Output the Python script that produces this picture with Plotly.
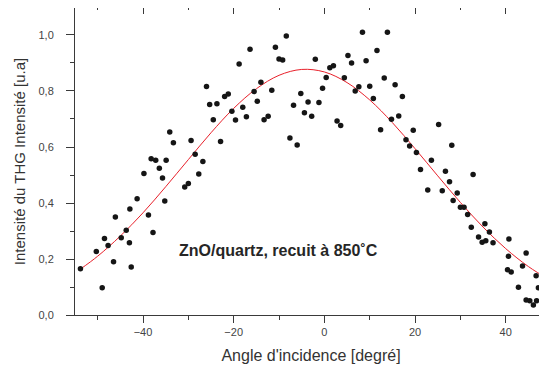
import plotly.graph_objects as go

# Measured data (angle in degrees, THG intensity in a.u.)
angle = [-53.8, -50.3, -49.0, -48.5, -47.7, -46.5, -46.1, -44.8, -43.7, -43.0,
         -42.9, -42.6, -41.3, -39.8, -38.8, -38.2, -37.8, -37.2, -36.4, -35.7,
         -35.2, -34.9, -34.1, -33.3, -30.8, -30.0, -29.4, -28.5, -27.7, -26.8,
         -26.0, -25.3, -24.5, -23.7, -22.9, -22.0, -21.2, -20.4, -19.6, -18.8,
         -18.0, -17.2, -16.4, -15.5, -14.8, -14.0, -13.3, -12.4, -11.6, -10.8,
         -10.0, -9.2, -8.4, -7.6, -6.8, -6.0, -5.2, -4.4, -3.6, -2.8,
         -2.0, -1.2, -0.4, 0.4, 1.2, 2.0, 2.8, 3.6, 4.4, 5.2,
         6.0, 6.8, 7.6, 8.4, 9.2, 10.0, 10.8, 11.6, 12.4, 13.2,
         13.9, 14.8, 15.6, 16.4, 17.2, 18.0, 18.8, 19.6, 20.3, 21.2,
         22.8, 23.6, 25.2, 26.0, 26.7, 27.6, 28.1, 28.4, 29.3, 30.0,
         30.8, 31.6, 32.4, 32.8, 34.0, 34.8, 35.4, 35.6, 36.4, 37.2,
         40.7, 40.6, 40.4, 41.2, 42.8, 43.7, 44.5, 44.5, 45.3, 46.1,
         46.7, 46.8, 47.2, 49.0]
intensity = [0.165, 0.227, 0.097, 0.273, 0.248, 0.190, 0.350, 0.276, 0.303, 0.258,
             0.379, 0.171, 0.415, 0.505, 0.357, 0.558, 0.295, 0.553, 0.524, 0.489,
             0.407, 0.553, 0.654, 0.615, 0.457, 0.470, 0.623, 0.574, 0.504, 0.548,
             0.816, 0.752, 0.697, 0.754, 0.620, 0.780, 0.789, 0.728, 0.696, 0.896,
             0.742, 0.708, 0.949, 0.798, 0.763, 0.831, 0.697, 0.710, 0.803, 0.956,
             0.914, 0.911, 0.996, 0.632, 0.749, 0.607, 0.791, 0.722, 0.761, 0.710,
             0.913, 0.759, 0.810, 0.848, 0.883, 0.890, 0.693, 0.677, 0.847, 0.927,
             0.900, 0.800, 0.815, 1.010, 0.908, 0.817, 0.773, 0.945, 0.662, 0.846,
             1.010, 0.699, 0.822, 0.711, 0.780, 0.626, 0.604, 0.660, 0.580, 0.520,
             0.446, 0.553, 0.680, 0.444, 0.513, 0.476, 0.606, 0.409, 0.436, 0.385,
             0.385, 0.359, 0.313, 0.502, 0.279, 0.260, 0.326, 0.265, 0.296, 0.258,
             0.271, 0.210, 0.162, 0.154, 0.099, 0.175, 0.221, 0.054, 0.051, 0.036,
             0.140, 0.051, 0.097, 0.003]

# Fit curve
fit_angle = [-53.8, -50, -45, -40, -35, -30, -25, -20, -15, -10, -5, 0,
             5, 10, 15, 20, 25, 30, 35, 40, 45, 50]
fit_intensity = [0.164, 0.210, 0.282, 0.365, 0.458, 0.555, 0.651, 0.738, 0.808,
                 0.856, 0.877, 0.868, 0.830, 0.768, 0.687, 0.594, 0.497, 0.402,
                 0.314, 0.237, 0.173, 0.122]

x_ticks = [-40, -20, 0, 20, 40]
y_ticks = [0.0, 0.2, 0.4, 0.6, 0.8, 1.0]

XR = [-55, 49.1]
YR = [0, 1.0964]
AX = "#3a3a3a"
FONT = "Liberation Sans, Arial, sans-serif"

fig = go.Figure()
fig.add_trace(go.Scatter(x=fit_angle, y=fit_intensity, mode="lines",
                         line=dict(color="#e8202a", width=1, shape="spline"),
                         hoverinfo="skip", showlegend=False))
fig.add_trace(go.Scatter(x=angle, y=intensity, mode="markers",
                         marker=dict(color="#151515", size=5.5),
                         cliponaxis=False, showlegend=False))

fig.add_annotation(x=-10.2, y=0.232, xref="x", yref="y",
                   text="<b>ZnO/quartz, recuit à 850˚C</b>", showarrow=False,
                   font=dict(family=FONT, size=16, color="#262626"))

# the page body adds an 8 px offset; the figure is sized so the page does not
# overflow the 547x376 window and the plot box lands where the reference has it
fig.update_layout(
    width=539, height=360,
    margin=dict(l=67, r=0, t=0, b=53, autoexpand=False),
    paper_bgcolor="white", plot_bgcolor="white",
    separators=", ",
    font=dict(family=FONT, color="#444444"),
    xaxis=dict(range=XR, tickvals=x_ticks, ticks="outside", ticklen=7,
               tickwidth=1, tickcolor=AX, showline=True, linecolor=AX,
               linewidth=1, showgrid=False, zeroline=False, automargin=False,
               minor=dict(dtick=10, tick0=0, ticks="outside", ticklen=4,
                          tickcolor=AX, showgrid=False),
               tickfont=dict(size=11, color="#444444"),
               title=dict(text="Angle d'incidence [degré]", standoff=12,
                          font=dict(size=16, color="#333333"))),
    yaxis=dict(range=YR, tickvals=y_ticks, tickformat=".1f", ticks="outside",
               ticklen=8, tickwidth=1, tickcolor=AX, showline=True,
               linecolor=AX, linewidth=1, showgrid=False, zeroline=False,
               ticklabelstandoff=10, automargin=False,
               minor=dict(dtick=0.1, tick0=0, ticks="outside", ticklen=4,
                          tickcolor=AX, showgrid=False),
               tickfont=dict(size=11, color="#444444"),
               title=dict(text="Intensité du THG Intensité [u.a]", standoff=9,
                          font=dict(size=15, color="#333333"))),
    xaxis2=dict(range=XR, overlaying="x", side="top", tickvals=x_ticks,
                ticks="inside", ticklen=6, tickcolor=AX, showline=True,
                linecolor=AX, linewidth=1, showticklabels=False,
                showgrid=False, zeroline=False, automargin=False,
                minor=dict(dtick=10, tick0=0, ticks="inside", ticklen=2,
                           tickcolor=AX, showgrid=False)),
    yaxis2=dict(range=YR, overlaying="y", side="right", tickvals=y_ticks,
                ticks="inside", ticklen=5, tickcolor=AX, showline=False,
                showticklabels=False, showgrid=False, zeroline=False,
                automargin=False,
                minor=dict(dtick=0.1, tick0=0, ticks="inside", ticklen=2,
                           tickcolor=AX, showgrid=False)),
)
# invisible trace to bind the mirror axes
fig.add_trace(go.Scatter(x=[XR[0]], y=[YR[0]], xaxis="x2", yaxis="y2",
                         mode="markers", marker=dict(opacity=0),
                         hoverinfo="skip", showlegend=False))

fig.write_html("out.html")
